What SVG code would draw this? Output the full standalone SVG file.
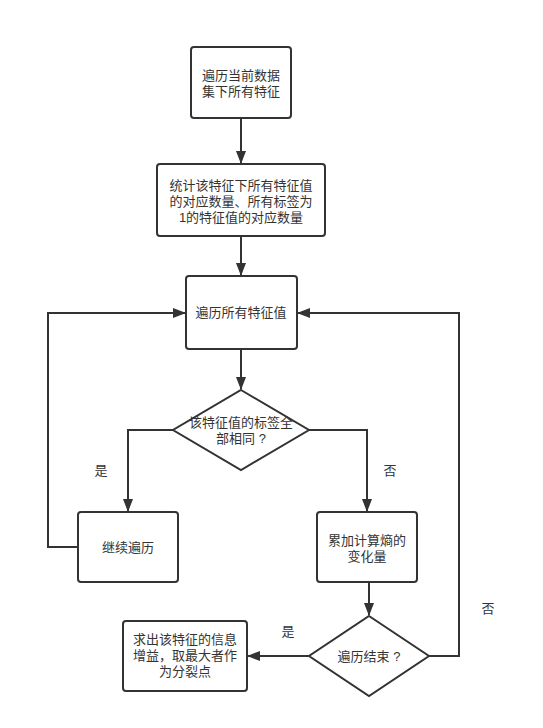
<svg xmlns="http://www.w3.org/2000/svg" width="543" height="728" viewBox="0 0 543 728">
<style>
.n{fill:#fff;stroke:#333;stroke-width:2}
.c{fill:none;stroke:#333;stroke-width:2}
text{font-family:"Liberation Sans","Noto Sans CJK SC",sans-serif;font-size:13px;fill:#333;text-anchor:middle}
</style>
<defs>
<marker id="a" markerWidth="13" markerHeight="10" refX="12" refY="5" orient="auto" markerUnits="userSpaceOnUse">
<path d="M0,0 L13,5 L0,10 Z" fill="#333"/>
</marker>
</defs>
<rect width="543" height="728" fill="#fff"/>
<g id="connectors">
<path class="c" d="M241,118 V163" marker-end="url(#a)"/>
<path class="c" d="M241,236 V275" marker-end="url(#a)"/>
<path class="c" d="M241,349 V389" marker-end="url(#a)"/>
<path class="c" d="M173,430 H128 V511" marker-end="url(#a)"/>
<path class="c" d="M309,430 H367 V511" marker-end="url(#a)"/>
<path class="c" d="M78,547 H48 V313 H185" marker-end="url(#a)"/>
<path class="c" d="M369,582 V615" marker-end="url(#a)"/>
<path class="c" d="M429,656 H459 V313 H298" marker-end="url(#a)"/>
<path class="c" d="M309,656 H248" marker-end="url(#a)"/>
<text x="101" y="475">是</text>
<text x="390" y="475">否</text>
<text x="488" y="613">否</text>
<text x="288" y="636">是</text>
</g>
<g id="n1"><rect class="n" x="191" y="47" width="100" height="71" rx="3"/>
<text x="241" y="80">遍历当前数据</text><text x="241" y="96">集下所有特征</text></g>
<g id="n2"><rect class="n" x="157" y="164" width="168" height="72" rx="3"/>
<text x="241" y="190">统计该特征下所有特征值</text><text x="241" y="206">的对应数量、所有标签为</text><text x="241" y="222">1的特征值的对应数量</text></g>
<g id="n3"><rect class="n" x="186" y="276" width="111" height="73" rx="3"/>
<text x="241" y="317">遍历所有特征值</text></g>
<g id="d1"><path class="n" d="M241,390 L309,430 L241,470 L173,430 Z"/>
<text x="241" y="427">该特征值的标签全</text><text x="241" y="443">部相同 ?</text></g>
<g id="n4"><rect class="n" x="78" y="512" width="100" height="70" rx="3"/>
<text x="128" y="552">继续遍历</text></g>
<g id="n5"><rect class="n" x="317" y="512" width="100" height="70" rx="3"/>
<text x="367" y="545">累加计算熵的</text><text x="367" y="561">变化量</text></g>
<g id="d2"><path class="n" d="M369,616 L429,656 L369,696 L309,656 Z"/>
<text x="369" y="661">遍历结束 ?</text></g>
<g id="n6"><rect class="n" x="123" y="621" width="124" height="70" rx="3"/>
<text x="185" y="644">求出该特征的信息</text><text x="185" y="660">增益，取最大者作</text><text x="185" y="676">为分裂点</text></g>
</svg>
